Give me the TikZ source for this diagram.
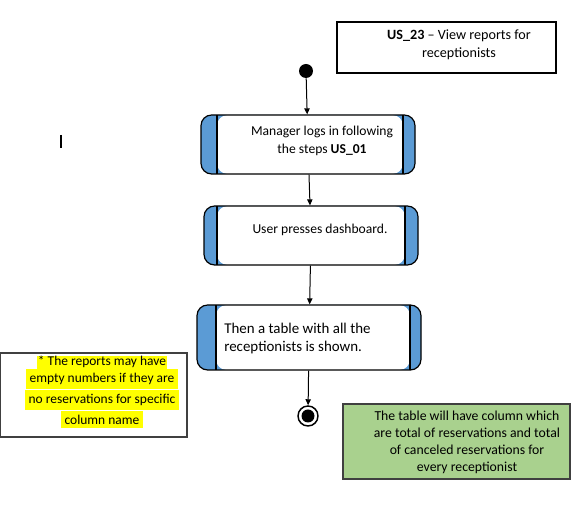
\documentclass[tikz,border=0pt]{standalone}
\usepackage{fontspec}
\setmainfont{Carlito}
\usetikzlibrary{arrows.meta}

\definecolor{bandblue}{HTML}{5B9BD5}
\definecolor{notegreen}{HTML}{A9D18E}
\definecolor{hlyellow}{HTML}{FFFF00}
\definecolor{edgegray}{HTML}{404040}

\tikzset{
  actbox/.style 2 args={draw=black, line width=0.9pt, rounded corners=8pt,
    fill=bandblue, inner sep=0pt,
    path picture={
      \fill[white] ([xshift=#1*0.75pt]path picture bounding box.south west)
        rectangle ([xshift=-#2*0.75pt]path picture bounding box.north east);
      \draw[line width=0.9pt] ([xshift=#1*0.75pt]path picture bounding box.south west)
        -- ([xshift=#1*0.75pt]path picture bounding box.north west);
      \draw[line width=0.9pt] ([xshift=-#2*0.75pt]path picture bounding box.south east)
        -- ([xshift=-#2*0.75pt]path picture bounding box.north east);
    }},
  lbl/.style={font=\fontsize{10.2pt}{13.3pt}\selectfont, align=center, inner sep=0pt},
  flow/.style={draw=black, line width=0.75pt, -{Triangle[length=4.5pt,width=4pt]}},
  notebox/.style={draw=edgegray, line width=0.8pt},
}

\begin{document}
\begin{tikzpicture}[x=0.75pt, y=-0.75pt]
  \useasboundingbox (0,0) rectangle (587,527);

  % title
  \draw[line width=0.8pt] (337,22) rectangle (556,73);
  \node[lbl, font=\fontsize{10.6pt}{13.5pt}\selectfont] (title) at (459,45) {\textbf{US\_23} – View reports for\\receptionists};

  % start and end
  \node[circle, fill=black, minimum size=14*0.75pt, inner sep=0pt] (start) at (306,71) {};
  \node[circle, draw=black, fill=white, line width=1.1pt, minimum size=20*0.75pt, inner sep=0pt] (stop) at (308,416) {};
  \fill[black] (stop.center) circle (6.5);

  % activities
  \node[actbox={16}{12}, minimum width=214*0.75pt, minimum height=59*0.75pt] (login) at (308,144.5) {};
  \node[lbl] (loginlbl) at (322,141) {Manager logs in following\\the steps \textbf{US\_01}};

  \node[actbox={13}{13}, minimum width=214*0.75pt, minimum height=59*0.75pt] (dash) at (311,235.5) {};
  \node[lbl] (dashlbl) at (320,230) {User presses dashboard.};

  \node[actbox={19}{11}, minimum width=224*0.75pt, minimum height=65*0.75pt] (table) at (309,337.5) {};
  \node[lbl, font=\fontsize{11.2pt}{13.5pt}\selectfont, align=left, anchor=west] (tablelbl) at (224,339)
    {Then a table with all the\\receptionists is shown.};

  % flow
  \draw[flow] (start) -- (login);
  \draw[flow] (login) -- (dash);
  \draw[flow] (dash) -- (table);
  \draw[flow] (table) -- (stop);

  % notes
  \draw[notebox] (0.5,353) rectangle (187,437);
  \node[lbl, font=\fontsize{10.1pt}{12.5pt}\selectfont] (reportnote) at (102,392)
    {\setlength{\fboxsep}{0.6pt}%
     \colorbox{hlyellow}{* The reports may have}\\
     \colorbox{hlyellow}{empty numbers if they are}\\
     \colorbox{hlyellow}{no reservations for specific}\\
     \colorbox{hlyellow}{column name}};

  \draw[notebox, fill=notegreen] (343,404) rectangle (570,479);
  \node[lbl, font=\fontsize{10.3pt}{12.75pt}\selectfont] (columnnote) at (467,442.5)
    {The table will have column which\\are total of reservations and total\\of canceled reservations for\\every receptionist};

  % cursor
  \draw[line width=1pt] (61,135) -- (61,148);
\end{tikzpicture}
\end{document}
